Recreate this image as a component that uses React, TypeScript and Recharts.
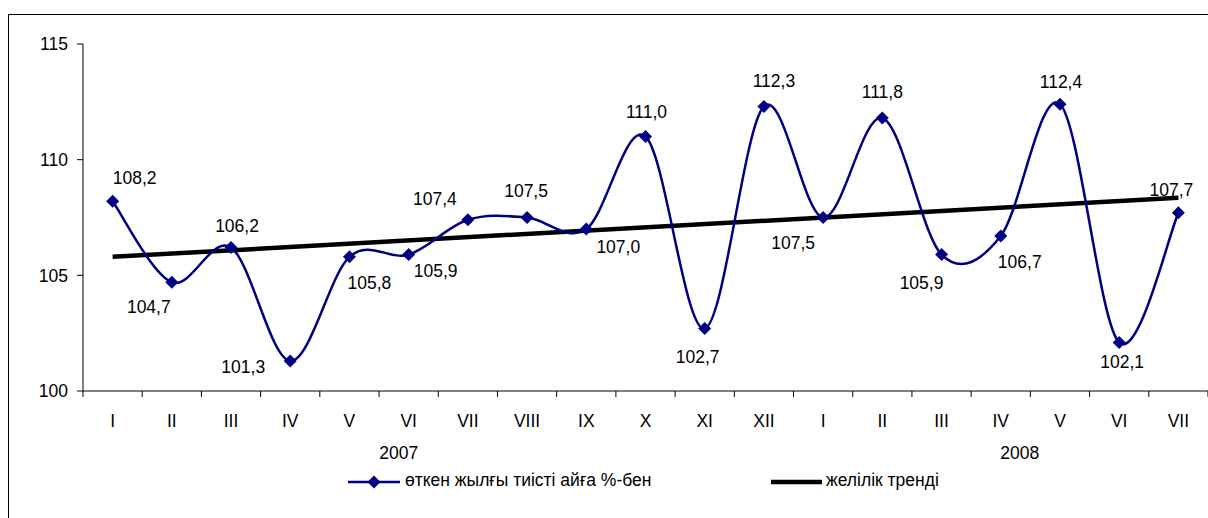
import React from "react";
import { LineChart, Line, XAxis, YAxis, Legend, LabelList } from "recharts";

// categories (months) and year groups
const months = ["I", "II", "III", "IV", "V", "VI", "VII", "VIII", "IX", "X", "XI", "XII", "I", "II", "III", "IV", "V", "VI", "VII"];
const years = ["2007", "2008"];
// series: % to the same month of previous year
const values = [108.2, 104.7, 106.2, 101.3, 105.8, 105.9, 107.4, 107.5, 107.0, 111.0, 102.7, 112.3, 107.5, 111.8, 105.9, 106.7, 112.4, 102.1, 107.7];
// linear trend read at the first and last month
const trendStart = 105.8;
const trendEnd = 108.35;
const yTicks = [100, 105, 110, 115];

const seriesName = "өткен жылғы тиісті айға %-бен";
const trendName = "желілік тренді";

// label placement around each point (dx, dy in px)
const labelOffsets: [number, number][] = [
  [22, -24], [-23, 24], [6, -22], [-47, 6], [20, 26], [27, 16], [-33, -21], [-1, -27],
  [32, 18], [1, -25], [-7, 28], [10, -26], [-30, 25], [0, -26], [-20, 28], [19, 26],
  [1, -22], [3, 19], [-7, -23],
];
// where the year labels sit: under which month index, shifted by px
const yearPlacement = [
  { index: 5, dx: -10 },
  { index: 15, dx: 19 },
];

const data = months.map((m, i) => ({
  month: m,
  value: values[i],
  trend: i === 0 ? trendStart : i === months.length - 1 ? trendEnd : null,
}));

const FONT = "'Liberation Sans', Arial, sans-serif";
const FS = 17.5;
const NAVY = "#000080";
const W = 1208;
const H = 518;
const PLOT_LEFT = 83;
const PLOT_TOP = 44;
const PLOT_BOTTOM = 391;
const STEP = (W - PLOT_LEFT) / months.length;

// Excel-like smoothing (Catmull-Rom through the points)
const excelCurve = (context: any) => {
  let pts: number[][] = [];
  return {
    areaStart() {},
    areaEnd() {},
    lineStart() {
      pts = [];
    },
    point(x: number, y: number) {
      pts.push([+x, +y]);
    },
    lineEnd() {
      const n = pts.length;
      if (!n) return;
      context.moveTo(pts[0][0], pts[0][1]);
      for (let i = 0; i < n - 1; i++) {
        const p0 = pts[Math.max(i - 1, 0)];
        const p1 = pts[i];
        const p2 = pts[i + 1];
        const p3 = pts[Math.min(i + 2, n - 1)];
        context.bezierCurveTo(
          p1[0] + (p2[0] - p0[0]) / 6,
          p1[1] + (p2[1] - p0[1]) / 6,
          p2[0] - (p3[0] - p1[0]) / 6,
          p2[1] - (p3[1] - p1[1]) / 6,
          p2[0],
          p2[1]
        );
      }
    },
  };
};

const Diamond = (props: any) => {
  const { cx, cy } = props;
  if (cx == null || cy == null) return null;
  const r = 6.5;
  return <path d={`M${cx},${cy - r}L${cx + r},${cy}L${cx},${cy + r}L${cx - r},${cy}Z`} fill={NAVY} />;
};

const MonthTick = (props: any) => {
  const { x, payload, index } = props;
  const year = yearPlacement.findIndex((p) => p.index === index);
  return (
    <g>
      <line x1={x - STEP / 2} y1={PLOT_BOTTOM} x2={x - STEP / 2} y2={PLOT_BOTTOM + 6} stroke="#000" />
      {index === months.length - 1 && (
        <line x1={x + STEP / 2} y1={PLOT_BOTTOM} x2={x + STEP / 2} y2={PLOT_BOTTOM + 6} stroke="#000" />
      )}
      <text x={x} y={PLOT_BOTTOM + 36} textAnchor="middle" fontSize={FS} fontFamily={FONT} fill="#000">
        {payload.value}
      </text>
      {year >= 0 && (
        <text x={x + yearPlacement[year].dx} y={PLOT_BOTTOM + 68} textAnchor="middle" fontSize={FS} fontFamily={FONT} fill="#000">
          {years[year]}
        </text>
      )}
    </g>
  );
};

const ValueLabel = (props: any) => {
  const { x, y, value, index } = props;
  const [dx, dy] = labelOffsets[index] || [0, -20];
  return (
    <text x={x + dx} y={y + dy} dy="0.36em" textAnchor="middle" fontSize={FS} fontFamily={FONT} fill="#000">
      {String(value.toFixed(1)).replace(".", ",")}
    </text>
  );
};

const LegendContent = () => (
  <div style={{ position: "relative", width: 700, height: 24, fontFamily: FONT, fontSize: FS, color: "#000" }}>
    <svg width={54} height={16} style={{ position: "absolute", left: 0, top: 4 }}>
      <line x1={0} y1={8} x2={52} y2={8} stroke={NAVY} strokeWidth={2.5} />
      <path d="M26,1.5L32.5,8L26,14.5L19.5,8Z" fill={NAVY} />
    </svg>
    <span style={{ position: "absolute", left: 57, top: 0, whiteSpace: "nowrap" }}>{seriesName}</span>
    <svg width={54} height={16} style={{ position: "absolute", left: 423, top: 4 }}>
      <line x1={0} y1={8} x2={51} y2={8} stroke="#000" strokeWidth={4.5} />
    </svg>
    <span style={{ position: "absolute", left: 478, top: 0, whiteSpace: "nowrap" }}>{trendName}</span>
  </div>
);

export default function App() {
  return (
    <div style={{ position: "absolute", left: 0, top: 0, width: W, height: H, overflow: "hidden", background: "#fff" }}>
      <div
        style={{
          position: "absolute",
          left: 8,
          top: 14,
          width: W,
          height: H,
          border: "1px solid #000",
          boxSizing: "border-box",
        }}
      />
      <div style={{ position: "absolute", left: 0, top: 0 }}>
        <LineChart
          width={W}
          height={H}
          data={data}
          margin={{ top: PLOT_TOP, right: 0, bottom: H - PLOT_BOTTOM - 30, left: PLOT_LEFT - 60 }}
        >
          <XAxis
            dataKey="month"
            height={30}
            interval={0}
            padding={{ left: STEP / 2, right: STEP / 2 }}
            tick={<MonthTick />}
            tickLine={false}
            axisLine={{ stroke: "#000" }}
          />
          <YAxis
            width={60}
            domain={[100, 115]}
            ticks={yTicks}
            interval={0}
            tickSize={6}
            tickMargin={9}
            tick={{ fill: "#000", fontSize: FS, fontFamily: FONT }}
            tickLine={{ stroke: "#000" }}
            axisLine={{ stroke: "#000" }}
          />
          <Line
            dataKey="trend"
            type="linear"
            stroke="#000"
            strokeWidth={4.5}
            dot={false}
            activeDot={false}
            connectNulls
            isAnimationActive={false}
          />
          <Line
            dataKey="value"
            type={excelCurve as any}
            stroke={NAVY}
            strokeWidth={2.5}
            dot={<Diamond />}
            activeDot={false}
            isAnimationActive={false}
          >
            <LabelList dataKey="value" content={<ValueLabel />} />
          </Line>
          <Legend
            layout="vertical"
            align="center"
            verticalAlign="middle"
            content={<LegendContent />}
            wrapperStyle={{ left: 348, top: 470, width: 700, height: 24 }}
          />
        </LineChart>
      </div>
    </div>
  );
}
